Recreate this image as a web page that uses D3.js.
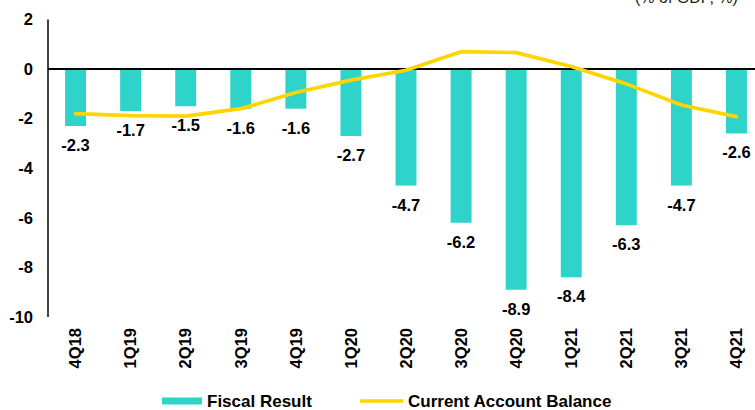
<!DOCTYPE html>
<html>
<head>
<meta charset="utf-8">
<script src="https://cdn.jsdelivr.net/npm/d3@7"></script>
<style>
  html, body { margin: 0; padding: 0; background: #fff; }
  svg { display: block; font-family: "Liberation Sans", Arial, sans-serif; }
</style>
</head>
<body>
<svg id="chart" width="755" height="410"></svg>
<script>
// Quarterly fiscal result and current account balance, % of GDP
const quarters = ["4Q18","1Q19","2Q19","3Q19","4Q19","1Q20","2Q20","3Q20","4Q20","1Q21","2Q21","3Q21","4Q21"];
const fiscalResult = [-2.3, -1.7, -1.5, -1.6, -1.6, -2.7, -4.7, -6.2, -8.9, -8.4, -6.3, -4.7, -2.6];
const currentAccount = [-1.8, -1.88, -1.9, -1.6, -0.95, -0.45, -0.05, 0.7, 0.66, 0.1, -0.6, -1.45, -1.92];
const yTicks = [2, 0, -2, -4, -6, -8, -10];
const seriesNames = ["Fiscal Result", "Current Account Balance"];

const barColor = "#2ED3CA";
const lineColor = "#FFD500";

const svg = d3.select("#chart");

const x = d3.scaleBand().domain(quarters).range([48, 764]).paddingInner(0.62).paddingOuter(0.31);
const y = d3.scaleLinear().domain([-10, 2]).range([317, 19.4]);

// y tick labels (no tick marks)
svg.append("g").selectAll("text").data(yTicks).join("text")
  .attr("x", 33).attr("y", d => y(d)).attr("dy", "0.35em")
  .attr("text-anchor", "end")
  .attr("font-size", 16.5).attr("font-weight", "bold").attr("fill", "#000")
  .text(d => d);

// bars
svg.append("g").selectAll("rect").data(fiscalResult).join("rect")
  .attr("x", (d, i) => x(quarters[i]))
  .attr("width", x.bandwidth())
  .attr("y", d => y(Math.max(0, d)))
  .attr("height", d => Math.abs(y(d) - y(0)))
  .attr("fill", barColor);

// bar value labels
svg.append("g").selectAll("text").data(fiscalResult).join("text")
  .attr("x", (d, i) => x(quarters[i]) + x.bandwidth() / 2)
  .attr("y", d => y(d) + 25)
  .attr("text-anchor", "middle")
  .attr("font-size", 16.5).attr("font-weight", "bold").attr("fill", "#000")
  .text(d => d.toFixed(1));

// axis lines
svg.append("line")
  .attr("x1", 48).attr("x2", 48).attr("y1", y(2)).attr("y2", y(-10))
  .attr("stroke", "#000").attr("stroke-width", 1.5);
svg.append("line")
  .attr("x1", 48).attr("x2", 755).attr("y1", y(0)).attr("y2", y(0))
  .attr("stroke", "#000").attr("stroke-width", 1.8);

// current account line
const line = d3.line()
  .x((d, i) => x(quarters[i]) + x.bandwidth() / 2)
  .y(d => y(d));
svg.append("path").datum(currentAccount)
  .attr("d", line)
  .attr("fill", "none").attr("stroke", lineColor)
  .attr("stroke-width", 3.7).attr("stroke-linejoin", "round").attr("stroke-linecap", "round");

// x category labels, rotated
svg.append("g").selectAll("text").data(quarters).join("text")
  .attr("transform", d => `translate(${x(d) + x.bandwidth() / 2},328) rotate(-90)`)
  .attr("text-anchor", "end").attr("dy", "0.35em")
  .attr("font-size", 16.5).attr("font-weight", "bold").attr("fill", "#000")
  .text(d => d);

// legend
const legend = svg.append("g");
legend.append("rect").attr("x", 162).attr("y", 397.5).attr("width", 40).attr("height", 7).attr("fill", barColor);
legend.append("text").attr("x", 207).attr("y", 401).attr("dy", "0.35em")
  .attr("font-size", 17).attr("font-weight", "bold").attr("fill", "#000").text(seriesNames[0]);
legend.append("line").attr("x1", 360).attr("x2", 403).attr("y1", 401).attr("y2", 401)
  .attr("stroke", lineColor).attr("stroke-width", 3.5);
legend.append("text").attr("x", 408).attr("y", 401).attr("dy", "0.35em")
  .attr("font-size", 17).attr("font-weight", "bold").attr("fill", "#000").text(seriesNames[1]);

// unit note in the top-right corner
svg.append("text").attr("x", 635).attr("y", 3)
  .attr("font-size", 16).attr("fill", "#222").text("(% of GDP, %)");
</script>
</body>
</html>
